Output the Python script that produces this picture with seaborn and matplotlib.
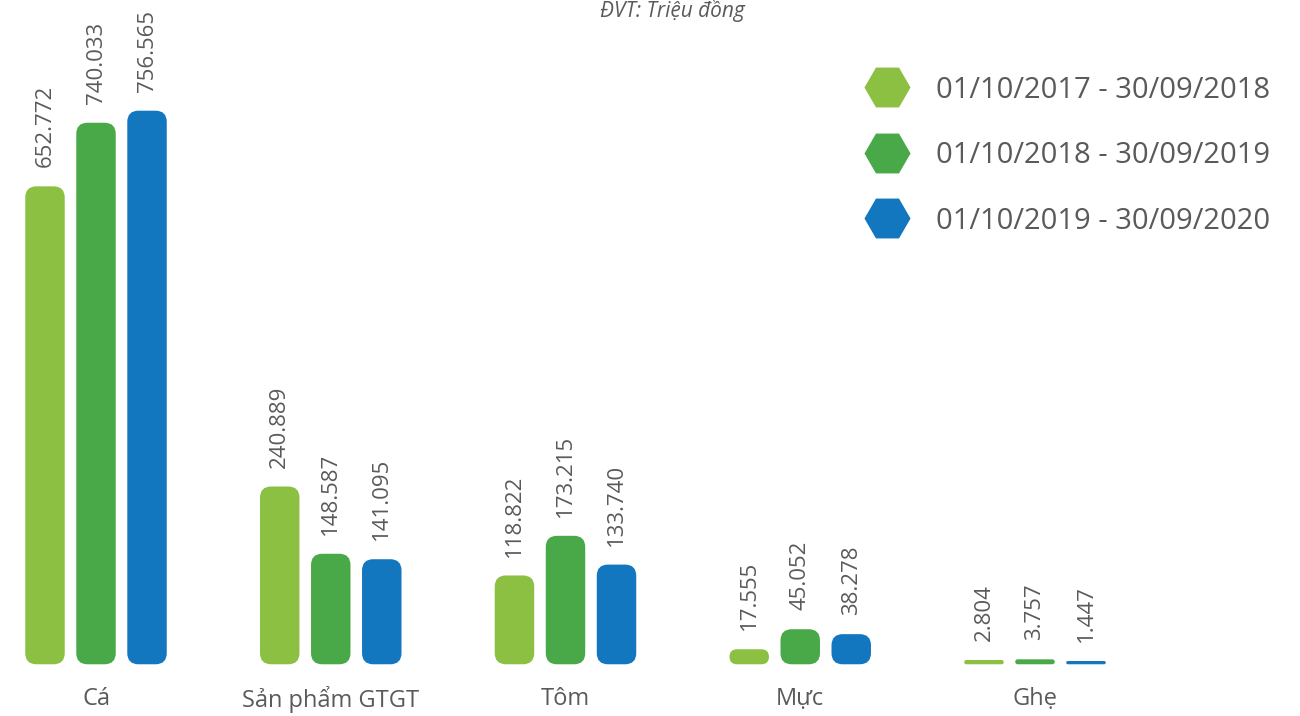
import matplotlib
matplotlib.use("Agg")
import matplotlib.pyplot as plt
from matplotlib.patches import FancyBboxPatch, BoxStyle
from matplotlib.lines import Line2D
import seaborn as sns
import pandas as pd

# Revenue by product group (million VND)
categories = ["Cá", "Sản phẩm GTGT", "Tôm", "Mực", "Ghẹ"]
periods = ["01/10/2017 - 30/09/2018", "01/10/2018 - 30/09/2019", "01/10/2019 - 30/09/2020"]
values_2018 = [652.772, 240.889, 118.822, 17.555, 2.804]
values_2019 = [740.033, 148.587, 173.215, 45.052, 3.757]
values_2020 = [756.565, 141.095, 133.740, 38.278, 1.447]
colors = ["#8CC043", "#49A948", "#1277BF"]
text_color = "#5a5a5a"

df = pd.DataFrame({
    "category": categories * 3,
    "period": [periods[0]] * 5 + [periods[1]] * 5 + [periods[2]] * 5,
    "value": values_2018 + values_2019 + values_2020,
})

sns.set_theme(style="white")
plt.rcParams["font.family"] = ["Open Sans", "DejaVu Sans"]

W, H = 13.0, 7.16
fig = plt.figure(figsize=(W, H), dpi=100)
ax = fig.add_axes([0, 0, 1, 1])

sns.barplot(data=df, x="category", y="value", hue="period", order=categories,
            hue_order=periods, palette=colors, saturation=1, width=0.652,
            gap=0.27, legend=False, ax=ax)

x0, x1 = -0.409, 5.129
y0, y1 = -72.5, 910.0
ax.set_xlim(x0, x1)
ax.set_ylim(y0, y1)
ax.axis("off")

xpp = (x1 - x0) / (W * 100)   # data x per pixel
ypp = (y1 - y0) / (H * 100)   # data y per pixel
aspect = ypp / xpp

# Swap the plain rectangles for rounded ones and label each with its value
bars = list(ax.patches)
for bar in bars:
    bx, by = bar.get_x(), bar.get_y()
    bw, bh = bar.get_width(), bar.get_height()
    color = bar.get_facecolor()
    bar.remove()
    r_px = min(10.0, (bw / xpp) / 2, (bh / ypp) / 2)
    r = r_px * xpp
    patch = FancyBboxPatch((bx, by), bw, bh,
                           boxstyle=BoxStyle.Round(pad=0, rounding_size=r),
                           mutation_aspect=aspect, facecolor=color,
                           edgecolor=color, linewidth=1.6)
    ax.add_patch(patch)
    ax.text(bx + bw / 2, by + bh + 20 * ypp, f"{bh:.3f}",
            rotation=90, ha="center", va="bottom", fontsize=16,
            color=text_color)

for i, cat in enumerate(categories):
    ax.text(i, -36 * ypp, cat, ha="center", va="center", fontsize=17,
            color=text_color)

fig.text(672 / (W * 100), 1 - 11 / (H * 100), "ĐVT: Triệu đồng", ha="center",
         va="center", fontsize=15, style="italic", color=text_color)

handles = [Line2D([], [], marker="H", linestyle="none", markersize=32,
                  color=c) for c in colors]
leg = ax.legend(handles, periods, loc="upper left",
                bbox_to_anchor=(853 / (W * 100), 1 - 64 / (H * 100)),
                bbox_transform=fig.transFigure, frameon=False, fontsize=21,
                handletextpad=0.95, labelspacing=1.25, borderaxespad=0,
                handlelength=1.5)
for t in leg.get_texts():
    t.set_color(text_color)

fig.savefig("out.png", dpi=100)
